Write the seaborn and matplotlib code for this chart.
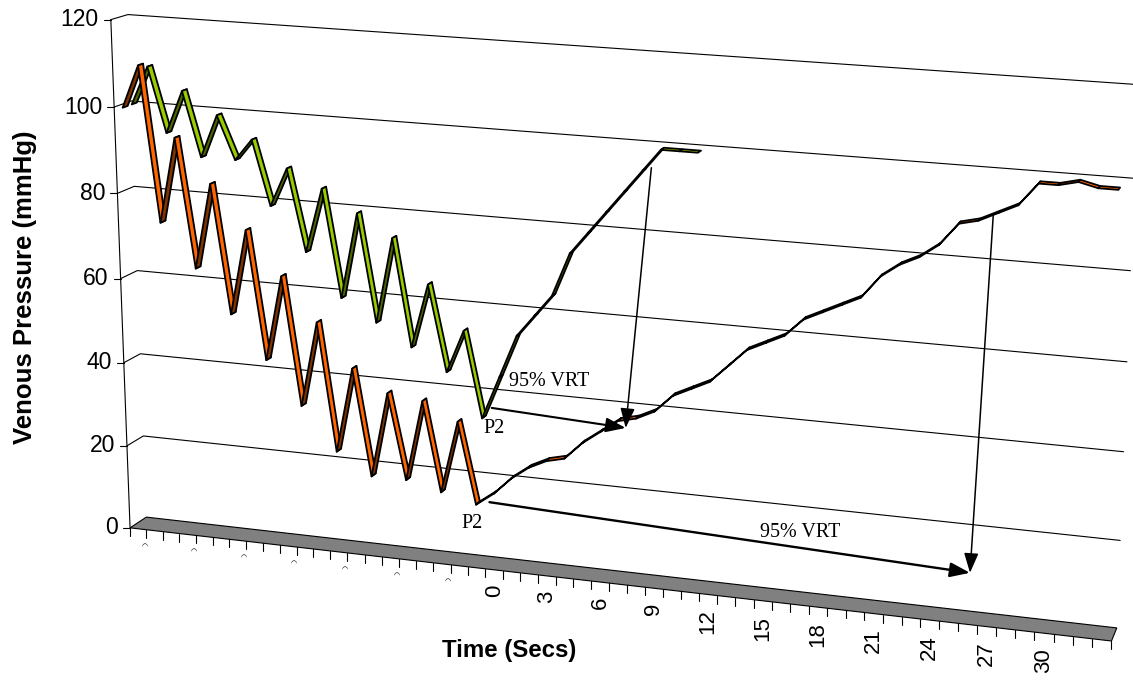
import numpy as np
import pandas as pd
import matplotlib
matplotlib.use("Agg")
import matplotlib.pyplot as plt
from matplotlib.patches import Polygon, FancyArrowPatch
import seaborn as sns

# ---------------------------------------------------------------- data
time_s = list(range(-21, 34))                 # one category per second
labelled_times = list(range(0, 31, 3))        # printed time labels
hidden_label_times = list(range(-21, 0, 3))   # labels clipped to a stub
pressure_ticks = [0, 20, 40, 60, 80, 100, 120]

# front row (orange): tip-toe pumping down to P2, then refill
orange_mmHg = [100, 110, 74, 94, 64, 84, 54, 74, 44, 64, 34, 54, 24, 44, 19, 39, 19, 38, 17, 34, 15,
               18, 22, 25, 27, 28, 32, 35, 38, 39, 41, 45, 47, 49, 53, 57, 59, 61, 65, 67, 69, 71,
               76, 79, 81, 84, 89, 90, 92, 94, 99, 99, 100, 99, 99]
# back row (green)
green_mmHg = [100, 109, 94, 104, 89, 99, 89, 94, 79, 88, 69, 84, 59, 79, 54, 74, 49, 64, 44, 54, 34,
              44, 54, 59, 64, 74, 79, 84, 89, 94, 99, 99, 99]

# 95% venous refill time markers: (time s, mmHg)
green_vrt = {"p2": (-0.55, 36.3), "tip": (7.0, 34.8), "top": (8.4, 94.6)}
orange_vrt = {"p2": (-0.34, 15.5), "tip": (26.0, 11.4), "top": (26.7, 91.2)}

# ---------------------------------------------------------------- 3-D frame
N_CAT = len(time_s)
P_MAX = 120.0

# box reference points (category position, mmHg, depth) and their canvas position
frame_anchors = [
    ((0, 0, 0), (129.3, 527.3)),
    ((0, 20, 0), (126.0, 444.3)),
    ((0, 40, 0), (123.3, 363.3)),
    ((0, 60, 0), (120.7, 279.0)),
    ((0, 80, 0), (117.0, 193.0)),
    ((0, 100, 0), (114.3, 107.3)),
    ((0, 120, 0), (110.0, 21.0)),
    ((0, 0, 1), (145.7, 517.3)),
    ((0, 20, 1), (143.3, 435.0)),
    ((0, 40, 1), (140.0, 353.3)),
    ((0, 60, 1), (138.3, 271.0)),
    ((0, 100, 1), (131.6, 101.5)),
    ((0, 120, 1), (128.3, 15.0)),
    ((10, 0, 0), (296.4, 546.7)),
    ((21, 0, 0), (486.7, 568.7)),
    ((27, 0, 0), (594.8, 581.4)),
    ((55, 0, 0), (1110.0, 641.0)),
    ((55, 0, 1), (1116.0, 630.0)),
    ((55, 80, 1), (1130.0, 271.0)),
    ((55, 120, 1), (1138.0, 82.0)),
]


def fit_camera(anchors):
    rows = []
    for (X, P, Z), (u, v) in anchors:
        w = np.array([X / N_CAT, P / P_MAX, Z, 1.0])
        u_, v_ = u / 1000.0, v / 1000.0
        rows.append(np.r_[w, np.zeros(4), -u_ * w])
        rows.append(np.r_[np.zeros(4), w, -v_ * w])
    _, _, vt = np.linalg.svd(np.array(rows))
    return vt[-1].reshape(3, 4)


CAM = fit_camera(frame_anchors)


def project(X, P, Z):
    X, P, Z = np.broadcast_arrays(np.asarray(X, float), np.asarray(P, float), np.asarray(Z, float))
    w = np.stack([X / N_CAT, P / P_MAX, Z, np.ones_like(X)])
    h = np.tensordot(CAM, w, axes=1)
    return h[0] / h[2] * 1000.0, h[1] / h[2] * 1000.0


def cat_pos(t):
    return t - time_s[0] + 0.5


ORANGE_Z = (0.0, 0.30)
GREEN_Z = (0.54, 0.84)

# ---------------------------------------------------------------- figure
sns.set_theme(style="white")
plt.rcParams["font.family"] = ["Liberation Sans", "DejaVu Sans"]
plt.rcParams["text.color"] = "black"

fig = plt.figure(figsize=(11.33, 6.84), dpi=100)
ax = fig.add_axes([0, 0, 1, 1])

# back-wall and side-wall gridlines
rows = []
for p in pressure_ticks[1:]:
    for k, (X, Z) in enumerate([(0, 0), (0, 1), (N_CAT, 1)]):
        u, v = project(X, p, Z)
        rows.append({"level": p, "order": k, "u": float(u), "v": float(v)})
grid = pd.DataFrame(rows)
sns.lineplot(data=grid, x="u", y="v", units="level", estimator=None, sort=False,
             color="black", lw=0.8, ax=ax, legend=False, zorder=1)

# floor
fx, fy = project([0, N_CAT, N_CAT, 0], [0, 0, 0, 0], [0, 0, 1, 1])
ax.add_patch(Polygon(np.c_[fx, fy], closed=True, fc="#808080", ec="black", lw=0.8, zorder=2))

# value axis
ax_u, ax_v = project([0, 0], [0, P_MAX], [0, 0])
ax.plot(ax_u, ax_v, color="black", lw=0.8, zorder=2)
for p in pressure_ticks:
    u, v = project(0, p, 0)
    ax.plot([u - 7, u], [v, v], color="black", lw=0.8, zorder=2)
    ax.text(u - 12, v, str(p), ha="right", va="center", fontsize=16.5)

# category ticks and labels
for X in range(N_CAT + 1):
    u, v = project(X, 0, 0)
    ax.plot([u, u], [v, v + 8], color="black", lw=0.8, zorder=2)
for t in labelled_times:
    u, v = project(cat_pos(t), 0, 0)
    ax.text(u, v + 15, str(t), rotation=90, ha="center", va="top", fontsize=16)
for t in hidden_label_times:
    u, v = project(cat_pos(t), 0, 0)
    ax.text(u + 6, v + 17, "\u25e0", ha="center", va="center", fontsize=5)

ax.text(25, 287, "Venous Pressure (mmHg)", rotation=90, ha="center", va="center",
        fontsize=18.5, fontweight="bold")
ax.text(509, 650, "Time (Secs)", ha="center", va="center", fontsize=17.3, fontweight="bold")


# ribbons
def draw_ribbon(values, zr, light, dark, zorder):
    X = np.arange(len(values)) + 0.5
    for i in range(len(values) - 1):
        u, v = project([X[i], X[i + 1], X[i + 1], X[i]],
                       [values[i], values[i + 1], values[i + 1], values[i]],
                       [zr[0], zr[0], zr[1], zr[1]])
        a = np.array([u[1] - u[0], v[1] - v[0]])
        b = np.array([u[3] - u[0], v[3] - v[0]])
        face = light if a[0] * b[1] - a[1] * b[0] < 0 else dark
        ax.add_patch(Polygon(np.c_[u, v], closed=True, fc=face, ec="black", lw=1.3,
                             joinstyle="round", zorder=zorder))


draw_ribbon(green_mmHg, GREEN_Z, "#99CC00", "#4D6600", 3)
draw_ribbon(orange_mmHg, ORANGE_Z, "#FF6600", "#7F3300", 4)


# refill-time arrows and notes
def arrow(a, b, z, lw):
    pa = project(cat_pos(a[0]), a[1], z)
    pb = project(cat_pos(b[0]), b[1], z)
    ax.add_patch(FancyArrowPatch((float(pa[0]), float(pa[1])), (float(pb[0]), float(pb[1])),
                                 arrowstyle="-|>,head_length=0.6,head_width=0.22",
                                 mutation_scale=20, lw=lw, color="black",
                                 shrinkA=0, shrinkB=0, zorder=6))


gz = np.mean(GREEN_Z)
oz = np.mean(ORANGE_Z)
arrow(green_vrt["p2"], green_vrt["tip"], gz, 1.5)
arrow(green_vrt["top"], green_vrt["tip"], gz, 1.1)
arrow(orange_vrt["p2"], orange_vrt["tip"], oz, 1.7)
arrow(orange_vrt["top"], orange_vrt["tip"], oz, 1.1)

serif = ["Liberation Serif", "DejaVu Serif"]
gp = project(cat_pos(-1), green_mmHg[20], gz)
op = project(cat_pos(-1), orange_mmHg[20], oz)
ax.annotate("P2", (float(gp[0]), float(gp[1])), xytext=(10, -12), textcoords="offset pixels",
            ha="center", va="center", fontsize=14.5, family=serif, zorder=7)
ax.annotate("P2", (float(op[0]), float(op[1])), xytext=(-6, -20), textcoords="offset pixels",
            ha="center", va="center", fontsize=14.5, family=serif, zorder=7)
ax.annotate("95% VRT", (float(gp[0]), float(gp[1])), xytext=(65, 35), textcoords="offset pixels",
            ha="center", va="center", fontsize=14.5, family=serif, zorder=7)
ax.annotate("95% VRT", (float(op[0]), float(op[1])), xytext=(322, -29), textcoords="offset pixels",
            ha="center", va="center", fontsize=14.5, family=serif, zorder=7)

ax.set_xlim(0, 1133)
ax.set_ylim(684, 0)
ax.axis("off")
fig.savefig("out.png", dpi=100, facecolor="white")
